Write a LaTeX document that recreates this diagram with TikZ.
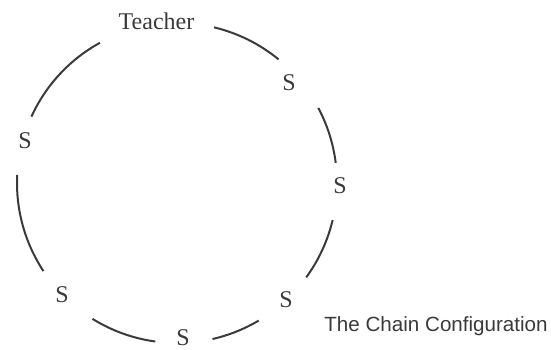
\documentclass[tikz,border=0pt]{standalone}
\usepackage{fontspec}
\setmainfont{Liberation Serif}
\newfontfamily\capfont{Liberation Sans}
\definecolor{ink}{HTML}{3A3A3A}
\begin{document}
\begin{tikzpicture}[x=0.5pt,y=0.5pt,
  lbl/.style={inner sep=0pt,anchor=base,text=ink,font=\fontsize{12}{14}\selectfont},
  chain/.style={draw=ink,line width=1pt},
  caption/.style={inner sep=0pt,anchor=base west,text=ink,font=\capfont\fontsize{10.3}{12}\selectfont}]
\useasboundingbox (0,0) rectangle (551,349);
\coordinate (O) at (177,166);
\node[lbl] (T) at (156.5,320) {Teacher};
\node[lbl] (s1) at (289,259) {S};
\node[lbl] (s2) at (340,156) {S};
\node[lbl] (s3) at (286,42) {S};
\node[lbl] (s4) at (183,4) {S};
\node[lbl] (s5) at (62,47) {S};
\node[lbl] (s6) at (25,201) {S};
\node[caption] (cap) at (324,18) {The Chain Configuration};
\foreach \a/\b in {118.8/155.5, 177.1/213.4, 238.1/262.2, 282.8/300.7, 323.9/346.6, 367.2/388.0, 410.6/436.6}
  \draw[chain] (O) ++(\a:80pt) arc[start angle=\a, end angle=\b, radius=80pt];
\end{tikzpicture}
\end{document}
